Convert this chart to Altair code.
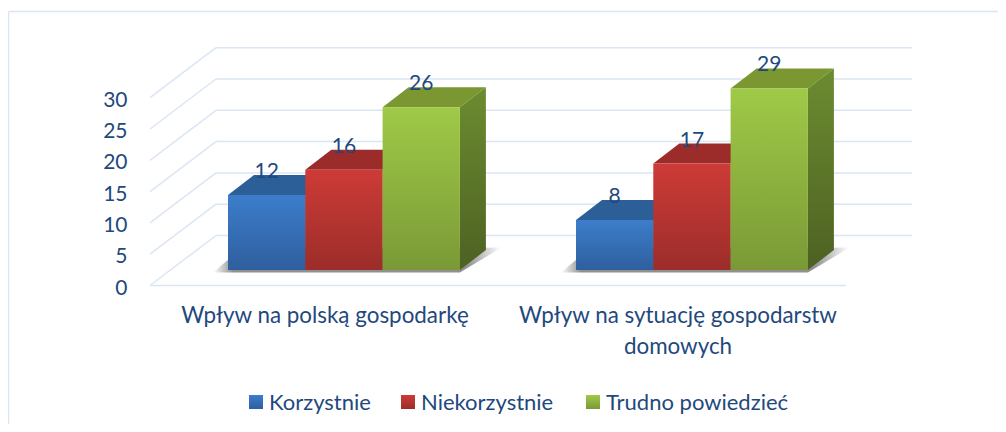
import altair as alt
import pandas as pd

# ---- values ----
categories = ["Wpływ na polską gospodarkę", "Wpływ na sytuację gospodarstw domowych"]
category_lines = [["Wpływ na polską gospodarkę"], ["Wpływ na sytuację gospodarstw", "domowych"]]
series = ["Korzystnie", "Niekorzystnie", "Trudno powiedzieć"]
korzystnie = [12, 8]
niekorzystnie = [16, 17]
trudno = [26, 29]
ticks = [0, 5, 10, 15, 20, 25, 30]

front_top = ["#3c7dcb", "#cd3b37", "#9fca47"]
front_bot = ["#2f5f9e", "#9c2d2a", "#7a9936"]
top_col = ["#2c5f98", "#9c2c29", "#7a9732"]
side_top = ["#2c5f98", "#9c2c29", "#6c8c30"]
side_bot = ["#234a78", "#7a2220", "#4d6122"]
grid_col = "#dbe6f4"
text_col = "#1f497d"
FONT = "Lato"

# ---- layout (page pixels, and pixels per value unit) ----
W, H = 990, 416
PX = 6.26
BASE = 270
def v(y):  # page y -> value units
    return (BASE - y) / PX

cat_left = [228, 576]
bar_w = 77.3
DX, DY = 26, 20 / PX          # bar depth
FLOOR_FRONT = v(285.5)
FLOOR_BACK = v(235.5)
GX0, GX1, GX2, GX3 = 150, 216, 846, 912

x_s = alt.Scale(domain=[8, 8 + W], nice=False, zero=False)
y_s = alt.Scale(domain=[v(8 + H), v(8)], nice=False, zero=False)
X = lambda f="x": alt.X(f"{f}:Q", scale=x_s, axis=None)
Y = lambda f="y": alt.Y(f"{f}:Q", scale=y_s, axis=None, stack=None)
X2 = alt.X2("x2:Q")
Y2 = alt.Y2("y2:Q")

def grad(c1, c2, offs=(0, 1)):
    return alt.Gradient(gradient="linear", x1=0, x2=0, y1=0, y2=1,
                        stops=[alt.GradientStop(color=c1, offset=offs[0]),
                               alt.GradientStop(color=c2, offset=offs[1])])

layers = []

# chart frame
frame = pd.DataFrame([
    {"x": 8.5, "x2": 8 + W, "y": v(11.5), "y2": v(11.5)},
    {"x": 8.5, "x2": 8.5, "y": v(11.5), "y2": v(8 + H)},
])
layers.append(alt.Chart(frame).mark_rule(color=grid_col, strokeWidth=1.5)
              .encode(x=X(), x2=X2, y=Y(), y2=Y2))

# grid
g = []
for t in ticks:
    g.append({"x": GX0, "x2": GX1, "y": t + FLOOR_FRONT, "y2": t + FLOOR_BACK})
    g.append({"x": GX1, "x2": GX3, "y": t + FLOOR_BACK, "y2": t + FLOOR_BACK})
g.append({"x": GX0, "x2": GX2, "y": FLOOR_FRONT, "y2": FLOOR_FRONT})
layers.append(alt.Chart(pd.DataFrame(g)).mark_rule(color=grid_col, strokeWidth=1.5)
              .encode(x=X(), x2=X2, y=Y(), y2=Y2))

# axis labels
layers.append(alt.Chart(pd.DataFrame({"t": ticks, "y": [t + FLOOR_FRONT for t in ticks], "x": [127.5] * len(ticks)}))
              .mark_text(align="right", baseline="middle", font=FONT, fontSize=21, color=text_col, dy=3)
              .encode(x=X(), y=Y(), text="t:N"))

# floor shadows
for left in cat_left:
    right = left + 3 * bar_w
    s = pd.DataFrame([
        {"b": 0, "x": left - 15, "y": v(272.5), "y2": v(272.5)},
        {"b": 0, "x": left + 14, "y": v(272.5), "y2": v(248)},
        {"b": 0, "x": right, "y": v(272.5), "y2": v(248)},
        {"b": 0, "x": right + 41, "y": v(248), "y2": v(247.5)},
    ])
    shadow = alt.Gradient(gradient="linear", x1=0, x2=1, y1=0, y2=0, stops=[
        alt.GradientStop(color="#ffffff", offset=0),
        alt.GradientStop(color="#909090", offset=0.07),
        alt.GradientStop(color="#909090", offset=0.88),
        alt.GradientStop(color="#ffffff", offset=1)])
    layers.append(alt.Chart(s).mark_area(color=shadow, orient="vertical")
                  .encode(x=X(), y=Y(), y2=Y2))

# bars: front, top and side faces are projected from the values
values = [korzystnie, niekorzystnie, trudno]
for si, name in enumerate(series):
    fr, tp, sd = [], [], []
    for ci, left in enumerate(cat_left):
        val = values[si][ci]
        x0 = left + si * bar_w
        x1 = x0 + bar_w
        fr.append({"x": x0, "x2": x1, "y": val, "y2": 0})
        for px, lo, hi in [(x0, val, val), (x0 + DX, val, val + DY),
                           (x1, val, val + DY), (x1 + DX, val + DY, val + DY)]:
            tp.append({"b": ci, "x": px, "y": lo, "y2": hi})
        for px, lo, hi in [(x1, 0, val), (x1 + DX, DY, val + DY)]:
            sd.append({"b": ci, "x": px, "y": lo, "y2": hi})
    layers.append(alt.Chart(pd.DataFrame(tp)).mark_area(color=top_col[si], orient="vertical")
                  .encode(x=X(), y=Y(), y2=Y2, detail="b:N"))
    layers.append(alt.Chart(pd.DataFrame(sd)).mark_area(color=grad(side_top[si], side_bot[si]), orient="vertical")
                  .encode(x=X(), y=Y(), y2=Y2, detail="b:N"))
    layers.append(alt.Chart(pd.DataFrame(fr)).mark_rect(color=grad(front_top[si], front_bot[si]))
                  .encode(x=X(), x2=X2, y=Y(), y2=Y2))

# data labels
lab = []
for si, name in enumerate(series):
    for ci, left in enumerate(cat_left):
        val = values[si][ci]
        lab.append({"x": left + (si + 0.5) * bar_w, "y": val + DY, "t": val})
layers.append(alt.Chart(pd.DataFrame(lab))
              .mark_text(align="center", baseline="alphabetic", font=FONT, fontSize=21, color=text_col, dy=3)
              .encode(x=X(), y=Y(), text="t:N"))

# category labels
cat_cx = [325, 678]
rows = []
for ci, ln in enumerate(category_lines):
    for li, s in enumerate(ln):
        rows.append({"x": cat_cx[ci], "y": v(316 + li * 30.5), "t": s})
layers.append(alt.Chart(pd.DataFrame(rows))
              .mark_text(align="center", baseline="middle", font=FONT, fontSize=22.4, color=text_col)
              .encode(x=X(), y=Y(), text="t:N"))

# legend
leg_x = [249, 401, 586]
for si, name in enumerate(series):
    layers.append(alt.Chart(pd.DataFrame([{"x": leg_x[si], "x2": leg_x[si] + 14, "y": v(395), "y2": v(409)}]))
                  .mark_rect(color=grad(front_top[si], front_bot[si]))
                  .encode(x=X(), x2=X2, y=Y(), y2=Y2))
layers.append(alt.Chart(pd.DataFrame({"x": [x + 20 for x in leg_x], "y": [v(403)] * 3, "t": series}))
              .mark_text(align="left", baseline="middle", font=FONT, fontSize=22, color=text_col)
              .encode(x=X(), y=Y(), text="t:N"))

chart = (alt.layer(*layers)
         .properties(width=W, height=H, padding=0, autosize=alt.AutoSizeParams(type="none"), background="#ffffff")
         .configure_view(strokeWidth=0))
chart.save("out.html", embed_options={"renderer": "svg", "actions": False})
